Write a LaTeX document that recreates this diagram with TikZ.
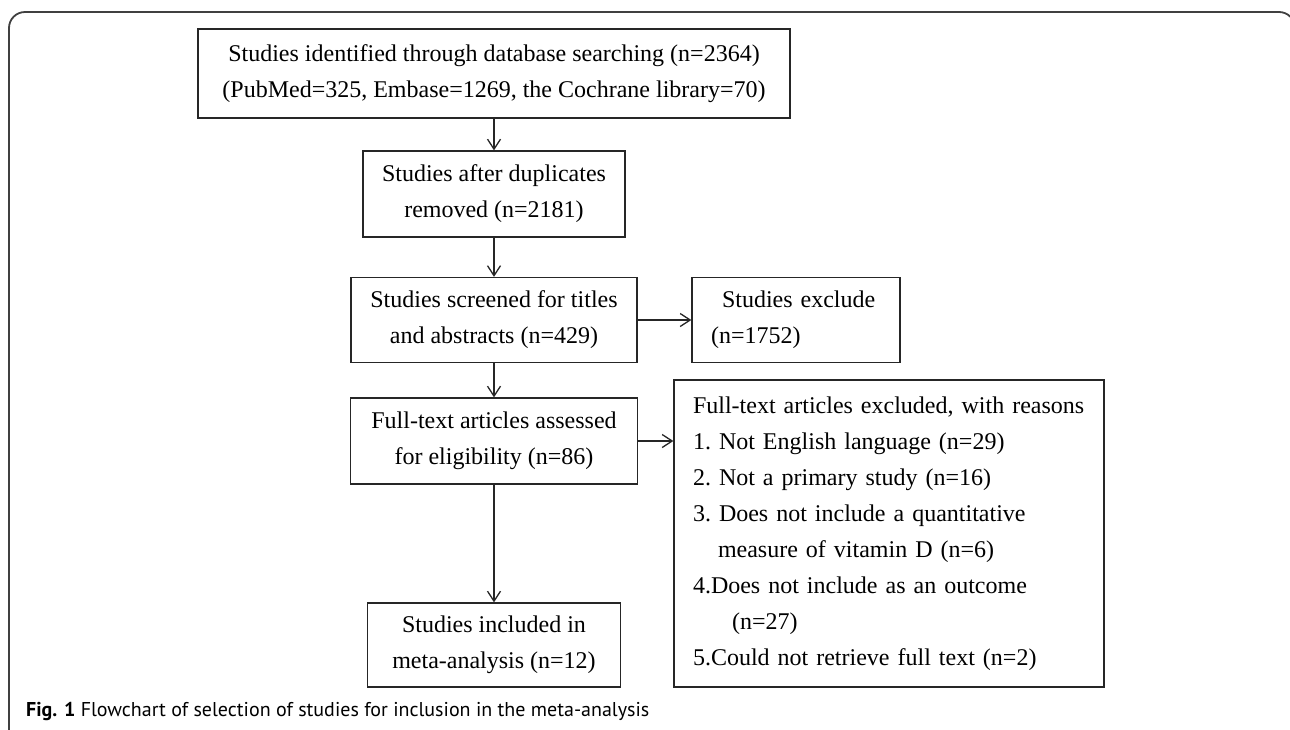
\documentclass[tikz,border=0pt]{standalone}
\usepackage{fontspec}
\setmainfont{Liberation Serif}
\newfontfamily\capfont{PT Sans}
\usepackage{tikz}
\usetikzlibrary{arrows.meta,positioning,calc}

\begin{document}
\begin{tikzpicture}[
    x=1pt, y=-1pt,
    flowbox/.style={draw=black!85, line width=1.3pt, align=center, inner sep=0pt, font=\fontsize{24}{36}\selectfont\frenchspacing},
    listbox/.style={draw=black!85, line width=1.3pt, align=left, inner xsep=19pt, inner ysep=0pt, font=\fontsize{24}{36}\selectfont\frenchspacing},
    arrow/.style={-{Straight Barb[length=10pt,width=13pt]}, line width=1.3pt, black!85}
]
\useasboundingbox (0,0) rectangle (1290,729);
\fill[white] (0,0) rectangle (1290,729);
\begin{scope}
\clip (0,0) rectangle (1290,729);
\draw[line width=1.8pt, black!75, rounded corners=16pt] (9,760) -- (9,12) -- (1295,12) -- (1295,760);
\end{scope}

\node[flowbox, minimum width=592pt, minimum height=89pt] (found) at (494,73.5) {Studies identified through database searching (n=2364)\\(PubMed=325, Embase=1269, the Cochrane library=70)};
\node[flowbox, minimum width=262pt, minimum height=86pt] (dedup) at (494,194) {Studies after duplicates\\removed (n=2181)};
\node[flowbox, minimum width=286pt, minimum height=85pt] (screen) at (494,320) {Studies screened for titles\\and abstracts (n=429)};
\node[listbox, text width=170pt, minimum height=85pt] (excl) at (796,320) {\hspace*{11pt}Studies exclude\\(n=1752)};
\node[flowbox, minimum width=287pt, minimum height=86pt] (assess) at (494,441) {Full-text articles assessed\\for eligibility (n=86)};
\node[listbox, text width=392pt, minimum height=307pt] (reasons) at (889,533.5) {Full-text articles excluded, with reasons\\
1. Not English language (n=29)\\
2. Not a primary study (n=16)\\
3. Does not include a quantitative\\
\hspace*{25pt}measure of vitamin D (n=6)\\
4.Does not include as an outcome\\
\hspace*{39pt}(n=27)\\
5.Could not retrieve full text (n=2)};
\node[flowbox, minimum width=253pt, minimum height=84pt] (incl) at (494,645) {Studies included in\\meta-analysis (n=12)};

\draw[arrow] (found) -- (dedup);
\draw[arrow] (dedup) -- (screen);
\draw[arrow] (screen) -- (excl);
\draw[arrow] (screen) -- (assess);
\draw[arrow] (assess) -- (assess -| reasons.west);
\draw[arrow] (assess) -- (incl);

\node[anchor=base west, inner sep=0pt, font=\capfont\fontsize{20}{24}\selectfont] (caption) at (26,716) {\textbf{Fig. 1} Flowchart of selection of studies for inclusion in the meta-analysis};
\end{tikzpicture}
\end{document}
